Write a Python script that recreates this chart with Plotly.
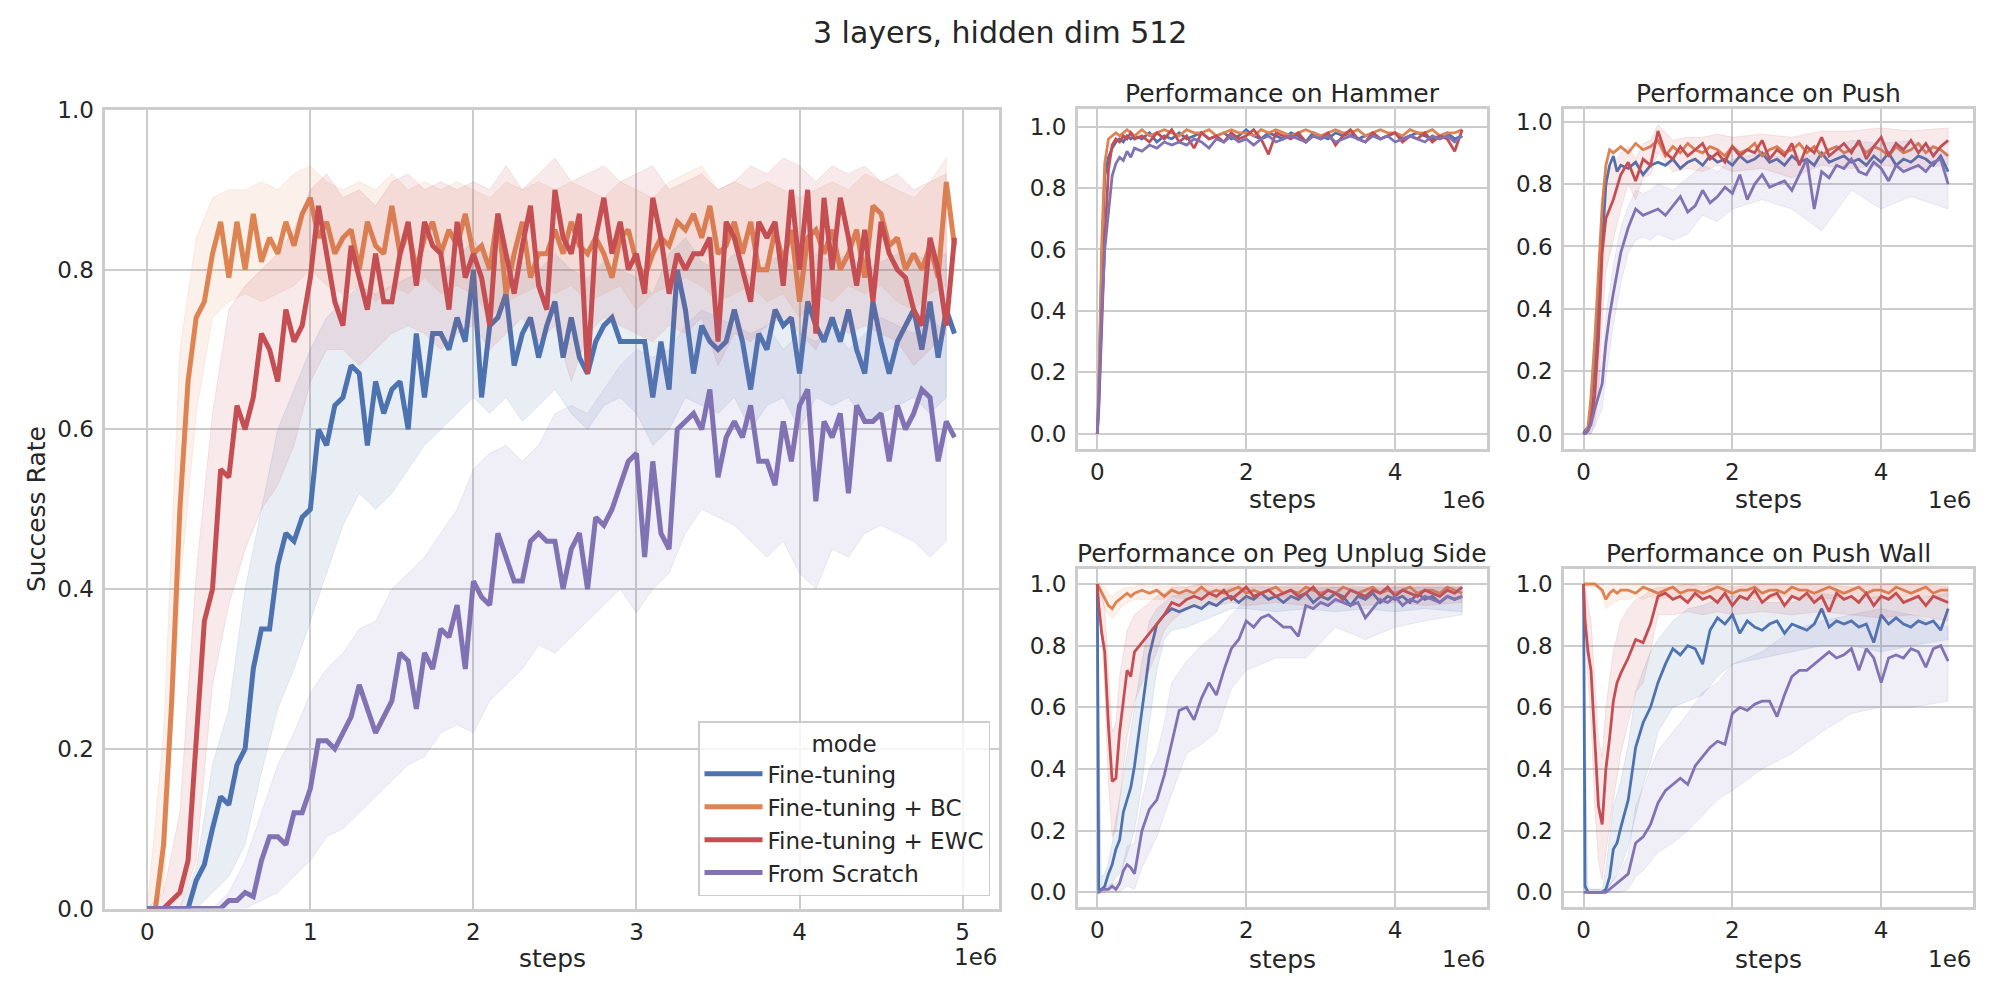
import plotly.graph_objects as go

# ---- sample grids (environment steps) ----
main_steps = list(range(0, 5_000_000, 50_000))          # 100 points
main_band_steps = list(range(0, 5_000_000, 100_000))    # 50 points
task_steps = [0, 20_000, 60_000, 100_000, 150_000, 200_000, 250_000, 300_000,
              350_000, 400_000, 450_000, 500_000] + list(range(600_000, 5_000_000, 100_000))
task_band_steps = [0, 50_000, 100_000, 150_000, 200_000, 250_000, 300_000, 400_000,
                   500_000, 600_000, 700_000, 800_000, 900_000,
                   1_000_000, 1_200_000, 1_400_000, 1_600_000, 1_800_000, 2_000_000,
                   2_400_000, 2_800_000, 3_200_000, 3_600_000, 4_000_000, 4_400_000, 4_900_000]

modes = ['Fine-tuning', 'Fine-tuning + BC', 'Fine-tuning + EWC', 'From Scratch']
colors = ['#4C72B0', '#DD8452', '#C44E52', '#8172B3']

# ---- main panel: mean success rate over all tasks ----
main_ft = [0, 0, 0, 0, 0, 0, 0.035, 0.055, 0.10, 0.14,
           0.13, 0.18, 0.20, 0.30, 0.35, 0.35, 0.43, 0.47, 0.46, 0.49,
           0.50, 0.60, 0.58, 0.63, 0.64, 0.68, 0.67, 0.58, 0.66, 0.62,
           0.65, 0.66, 0.60, 0.72, 0.64, 0.72, 0.72, 0.70, 0.74, 0.71,
           0.80, 0.64, 0.73, 0.74, 0.77, 0.68, 0.72, 0.74, 0.69, 0.73,
           0.76, 0.69, 0.74, 0.69, 0.67, 0.71, 0.73, 0.74, 0.71, 0.71,
           0.71, 0.71, 0.64, 0.71, 0.65, 0.80, 0.75, 0.67, 0.73, 0.71,
           0.70, 0.71, 0.75, 0.71, 0.65, 0.72, 0.70, 0.75, 0.73, 0.74,
           0.67, 0.76, 0.73, 0.71, 0.74, 0.71, 0.75, 0.70, 0.67, 0.76,
           0.71, 0.67, 0.71, 0.73, 0.75, 0.70, 0.76, 0.69, 0.75, 0.72]
main_bc = [0.0, 0.0, 0.08, 0.26, 0.50, 0.66, 0.74, 0.76, 0.82, 0.86,
           0.79, 0.86, 0.80, 0.87, 0.81, 0.84, 0.82, 0.86, 0.83, 0.87,
           0.89, 0.84, 0.86, 0.82, 0.84, 0.85, 0.80, 0.86, 0.83, 0.82,
           0.88, 0.82, 0.85, 0.80, 0.84, 0.86, 0.82, 0.85, 0.83, 0.87,
           0.82, 0.83, 0.80, 0.87, 0.77, 0.82, 0.86, 0.79, 0.82, 0.82,
           0.85, 0.82, 0.86, 0.83, 0.82, 0.84, 0.82, 0.79, 0.84, 0.85,
           0.81, 0.79, 0.82, 0.84, 0.83, 0.86, 0.85, 0.87, 0.84, 0.88,
           0.82, 0.83, 0.86, 0.82, 0.86, 0.80, 0.80, 0.85, 0.81, 0.85,
           0.76, 0.84, 0.85, 0.82, 0.85, 0.80, 0.82, 0.85, 0.79, 0.88,
           0.87, 0.83, 0.84, 0.80, 0.82, 0.80, 0.83, 0.79, 0.91, 0.83]
main_ewc = [0.0, 0.0, 0.0, 0.01, 0.02, 0.06, 0.22, 0.36, 0.40, 0.55,
            0.54, 0.63, 0.60, 0.64, 0.72, 0.70, 0.66, 0.75, 0.71, 0.73,
            0.79, 0.88, 0.82, 0.76, 0.73, 0.83, 0.79, 0.75, 0.82, 0.76,
            0.76, 0.82, 0.86, 0.78, 0.86, 0.83, 0.82, 0.75, 0.86, 0.79,
            0.82, 0.79, 0.73, 0.87, 0.82, 0.77, 0.83, 0.88, 0.78, 0.75,
            0.90, 0.84, 0.82, 0.87, 0.67, 0.84, 0.89, 0.82, 0.86, 0.80,
            0.82, 0.77, 0.89, 0.84, 0.77, 0.82, 0.80, 0.82, 0.82, 0.84,
            0.71, 0.86, 0.84, 0.80, 0.76, 0.86, 0.84, 0.86, 0.78, 0.90,
            0.80, 0.90, 0.72, 0.89, 0.80, 0.89, 0.84, 0.78, 0.85, 0.76,
            0.86, 0.82, 0.80, 0.79, 0.75, 0.73, 0.84, 0.80, 0.73, 0.84]
main_fs = [0, 0, 0, 0, 0, 0, 0, 0, 0, 0,
           0.01, 0.01, 0.02, 0.015, 0.06, 0.09, 0.09, 0.08, 0.12, 0.12,
           0.15, 0.21, 0.21, 0.20, 0.22, 0.24, 0.28, 0.25, 0.22, 0.24,
           0.26, 0.32, 0.31, 0.25, 0.32, 0.30, 0.35, 0.34, 0.38, 0.30,
           0.41, 0.39, 0.38, 0.47, 0.44, 0.41, 0.41, 0.46, 0.47, 0.46,
           0.46, 0.40, 0.45, 0.47, 0.40, 0.49, 0.48, 0.50, 0.53, 0.56,
           0.57, 0.44, 0.56, 0.47, 0.45, 0.60, 0.61, 0.62, 0.60, 0.65,
           0.54, 0.59, 0.61, 0.59, 0.63, 0.56, 0.56, 0.53, 0.61, 0.56,
           0.63, 0.65, 0.51, 0.61, 0.59, 0.62, 0.52, 0.63, 0.61, 0.61,
           0.62, 0.56, 0.63, 0.60, 0.62, 0.65, 0.64, 0.56, 0.61, 0.59]

# confidence bands of the main panel (every 100k steps)
main_ft_lo = [0, 0, 0, 0, 0.02, 0.04, 0.08, 0.17, 0.25, 0.30,
              0.36, 0.42, 0.48, 0.52, 0.50, 0.52, 0.55, 0.58, 0.60, 0.62,
              0.64, 0.62, 0.64, 0.61, 0.63, 0.65, 0.62, 0.60, 0.63, 0.64,
              0.62, 0.58, 0.60, 0.64, 0.63, 0.62, 0.64, 0.60, 0.63, 0.64,
              0.60, 0.64, 0.63, 0.64, 0.61, 0.62, 0.63, 0.64, 0.62, 0.64]
main_ft_hi = [0, 0, 0, 0.05, 0.18, 0.25, 0.40, 0.50, 0.60, 0.65,
              0.70, 0.74, 0.76, 0.78, 0.77, 0.78, 0.79, 0.80, 0.80, 0.81,
              0.84, 0.80, 0.82, 0.81, 0.80, 0.82, 0.80, 0.79, 0.81, 0.80,
              0.79, 0.77, 0.82, 0.84, 0.81, 0.80, 0.82, 0.79, 0.81, 0.82,
              0.79, 0.82, 0.81, 0.82, 0.80, 0.81, 0.82, 0.82, 0.81, 0.82]
main_bc_lo = [0, 0.02, 0.40, 0.62, 0.74, 0.76, 0.77, 0.76, 0.77, 0.78,
              0.80, 0.78, 0.77, 0.78, 0.76, 0.78, 0.77, 0.79, 0.77, 0.78,
              0.77, 0.74, 0.76, 0.77, 0.78, 0.77, 0.78, 0.76, 0.77, 0.78,
              0.75, 0.77, 0.78, 0.79, 0.78, 0.76, 0.77, 0.78, 0.76, 0.77,
              0.74, 0.77, 0.76, 0.78, 0.77, 0.78, 0.76, 0.75, 0.77, 0.78]
main_bc_hi = [0, 0.22, 0.70, 0.84, 0.89, 0.90, 0.90, 0.91, 0.90, 0.92,
              0.93, 0.91, 0.90, 0.91, 0.90, 0.92, 0.90, 0.91, 0.90, 0.91,
              0.90, 0.89, 0.91, 0.90, 0.91, 0.90, 0.91, 0.90, 0.89, 0.91,
              0.90, 0.89, 0.91, 0.92, 0.93, 0.90, 0.91, 0.90, 0.91, 0.90,
              0.89, 0.90, 0.91, 0.90, 0.92, 0.91, 0.90, 0.89, 0.91, 0.94]
main_ewc_lo = [0, 0, 0, 0.06, 0.28, 0.38, 0.45, 0.50, 0.53, 0.58,
               0.66, 0.70, 0.70, 0.68, 0.70, 0.72, 0.73, 0.72, 0.70, 0.72,
               0.73, 0.70, 0.72, 0.74, 0.71, 0.73, 0.66, 0.72, 0.74, 0.73,
               0.72, 0.71, 0.73, 0.72, 0.74, 0.68, 0.72, 0.71, 0.73, 0.74,
               0.72, 0.70, 0.74, 0.72, 0.73, 0.72, 0.71, 0.68, 0.70, 0.72]
main_ewc_hi = [0, 0.02, 0.12, 0.42, 0.62, 0.75, 0.78, 0.80, 0.82, 0.85,
               0.90, 0.92, 0.89, 0.90, 0.88, 0.91, 0.92, 0.90, 0.91, 0.90,
               0.91, 0.90, 0.93, 0.90, 0.92, 0.94, 0.91, 0.92, 0.93, 0.91,
               0.92, 0.93, 0.90, 0.91, 0.92, 0.90, 0.91, 0.93, 0.92, 0.94,
               0.93, 0.91, 0.93, 0.92, 0.93, 0.91, 0.92, 0.90, 0.91, 0.92]
main_fs_lo = [0, 0, 0, 0, 0, 0, 0, 0.01, 0.02, 0.04,
              0.06, 0.09, 0.10, 0.12, 0.14, 0.16, 0.18, 0.19, 0.22, 0.23,
              0.22, 0.26, 0.28, 0.30, 0.33, 0.32, 0.34, 0.36, 0.38, 0.40,
              0.37, 0.40, 0.42, 0.47, 0.50, 0.49, 0.48, 0.46, 0.44, 0.46,
              0.42, 0.40, 0.45, 0.44, 0.47, 0.48, 0.47, 0.46, 0.44, 0.46]
main_fs_hi = [0, 0, 0, 0, 0, 0.02, 0.06, 0.12, 0.18, 0.22,
              0.27, 0.30, 0.32, 0.35, 0.36, 0.40, 0.42, 0.44, 0.47, 0.50,
              0.55, 0.57, 0.58, 0.56, 0.58, 0.62, 0.63, 0.62, 0.65, 0.68,
              0.70, 0.69, 0.70, 0.73, 0.75, 0.74, 0.73, 0.72, 0.73, 0.70,
              0.72, 0.71, 0.73, 0.70, 0.72, 0.74, 0.73, 0.72, 0.74, 0.72]

# ---- per-task panels ----
hammer_ft = [0, 0.12, 0.55, 0.84, 0.90, 0.93, 0.95, 0.96, 0.95, 0.97, 0.96, 0.97,
             0.96, 0.98, 0.95, 0.97, 0.96, 0.98, 0.96, 0.97, 0.98, 0.96,
             0.97, 0.98, 0.96, 0.97, 0.99, 0.97, 0.96, 0.98, 0.97, 0.96,
             0.98, 0.97, 0.95, 0.98, 0.97, 0.96, 0.98, 0.97, 0.98, 0.96,
             0.97, 0.98, 0.96, 0.97, 0.98, 0.96, 0.97, 0.98, 0.97, 0.96,
             0.97, 0.98, 0.96, 0.97]
hammer_bc = [0, 0.15, 0.62, 0.88, 0.96, 0.97, 0.98, 0.97, 0.98, 0.99, 0.98, 0.97,
             0.99, 0.97, 0.98, 0.99, 0.98, 0.97, 0.99, 0.98, 0.98, 0.99,
             0.97, 0.98, 0.99, 0.98, 0.98, 0.97, 0.99, 0.98, 0.99, 0.98,
             0.97, 0.98, 0.99, 0.98, 0.97, 0.98, 0.99, 0.98, 0.98, 0.99,
             0.97, 0.98, 0.99, 0.98, 0.98, 0.97, 0.99, 0.98, 0.98, 0.99,
             0.97, 0.98, 0.98, 0.99]
hammer_ewc = [0, 0.08, 0.35, 0.62, 0.86, 0.94, 0.96, 0.95, 0.97, 0.96, 0.98, 0.96,
              0.97, 0.95, 0.98, 0.96, 0.99, 0.95, 0.97, 0.93, 0.98, 0.96,
              0.97, 0.95, 0.98, 0.96, 0.97, 0.99, 0.96, 0.91, 0.98, 0.97,
              0.96, 0.98, 0.95, 0.97, 0.96, 0.98, 0.94, 0.97, 0.99, 0.96,
              0.95, 0.98, 0.96, 0.97, 0.98, 0.95, 0.97, 0.96, 0.98, 0.95,
              0.97, 0.96, 0.92, 0.99]
hammer_fs = [0, 0.10, 0.40, 0.60, 0.72, 0.84, 0.88, 0.90, 0.89, 0.92, 0.90, 0.93,
             0.92, 0.94, 0.93, 0.95, 0.94, 0.95, 0.94, 0.96, 0.95, 0.93,
             0.96, 0.95, 0.97, 0.95, 0.96, 0.94, 0.96, 0.97, 0.95, 0.96,
             0.97, 0.96, 0.95, 0.97, 0.96, 0.97, 0.95, 0.96, 0.97, 0.96,
             0.95, 0.97, 0.96, 0.97, 0.95, 0.96, 0.97, 0.96, 0.95, 0.97,
             0.96, 0.97, 0.95, 0.97]

push_ft = [0, 0.01, 0.02, 0.08, 0.22, 0.42, 0.62, 0.80, 0.86, 0.89, 0.84, 0.86,
           0.85, 0.87, 0.83, 0.86, 0.87, 0.86, 0.88, 0.85, 0.87, 0.88,
           0.86, 0.89, 0.87, 0.88, 0.86, 0.89, 0.87, 0.88, 0.90, 0.87,
           0.88, 0.86, 0.89, 0.87, 0.88, 0.86, 0.90, 0.87, 0.88, 0.89,
           0.87, 0.88, 0.86, 0.89, 0.87, 0.90, 0.86, 0.88, 0.87, 0.89,
           0.88, 0.86, 0.89, 0.84]
push_bc = [0, 0.0, 0.02, 0.12, 0.30, 0.50, 0.73, 0.86, 0.91, 0.90, 0.91, 0.92,
           0.90, 0.93, 0.91, 0.92, 0.94, 0.89, 0.92, 0.90, 0.93, 0.91,
           0.90, 0.92, 0.91, 0.89, 0.92, 0.90, 0.91, 0.93, 0.89, 0.91,
           0.92, 0.90, 0.91, 0.93, 0.90, 0.92, 0.89, 0.91, 0.92, 0.90,
           0.91, 0.93, 0.90, 0.92, 0.91, 0.89, 0.92, 0.90, 0.91, 0.93,
           0.90, 0.92, 0.91, 0.89]
push_ewc = [0, 0.0, 0.01, 0.04, 0.12, 0.30, 0.58, 0.69, 0.72, 0.75, 0.79, 0.83,
            0.87, 0.81, 0.88, 0.86, 0.97, 0.90, 0.88, 0.92, 0.89, 0.91,
            0.93, 0.88, 0.90, 0.87, 0.92, 0.89, 0.91, 0.90, 0.94, 0.88,
            0.91, 0.89, 0.93, 0.86, 0.92, 0.90, 0.95, 0.89, 0.91, 0.93,
            0.90, 0.94, 0.88, 0.92, 0.95, 0.89, 0.93, 0.91, 0.94, 0.90,
            0.93, 0.89, 0.92, 0.94]
push_fs = [0, 0.0, 0.01, 0.03, 0.08, 0.12, 0.16, 0.29, 0.38, 0.45, 0.52, 0.58,
           0.66, 0.72, 0.70, 0.71, 0.72, 0.70, 0.73, 0.76, 0.71, 0.73,
           0.78, 0.74, 0.76, 0.79, 0.77, 0.83, 0.75, 0.80, 0.83, 0.79,
           0.80, 0.81, 0.78, 0.83, 0.88, 0.72, 0.84, 0.82, 0.86, 0.85,
           0.88, 0.84, 0.83, 0.87, 0.85, 0.81, 0.86, 0.84, 0.85, 0.86,
           0.84, 0.87, 0.88, 0.80]

peg_ft = [1.0, 0.01, 0.01, 0.02, 0.06, 0.09, 0.14, 0.17, 0.26, 0.30, 0.34, 0.41,
          0.59, 0.77, 0.87, 0.90, 0.92, 0.91, 0.92, 0.93, 0.92, 0.94,
          0.93, 0.95, 0.96, 0.94, 0.96, 0.95, 0.97, 0.95, 0.96, 0.94,
          0.96, 0.95, 0.97, 0.94, 0.96, 0.95, 0.97, 0.96, 0.93, 0.96,
          0.95, 0.97, 0.94, 0.96, 0.95, 0.96, 0.94, 0.97, 0.95, 0.96,
          0.94, 0.96, 0.95, 0.96]
peg_bc = [1.0, 0.99, 0.97, 0.95, 0.93, 0.92, 0.94, 0.95, 0.96, 0.97, 0.96, 0.97,
          0.98, 0.97, 0.98, 0.96, 0.98, 0.97, 0.98, 0.97, 0.99, 0.97,
          0.98, 0.97, 0.98, 0.99, 0.97, 0.98, 0.97, 0.98, 0.99, 0.97,
          0.98, 0.97, 0.99, 0.98, 0.97, 0.98, 0.97, 0.99, 0.98, 0.97,
          0.98, 0.99, 0.97, 0.98, 0.97, 0.98, 0.99, 0.97, 0.98, 0.98,
          0.97, 0.99, 0.98, 0.97]
peg_ewc = [1.0, 0.93, 0.84, 0.78, 0.54, 0.36, 0.37, 0.52, 0.62, 0.72, 0.70, 0.78,
           0.81, 0.84, 0.87, 0.90, 0.94, 0.93, 0.95, 0.96, 0.95, 0.97,
           0.96, 0.98, 0.95, 0.97, 0.99, 0.96, 0.97, 0.98, 0.96, 0.97,
           0.98, 0.96, 0.97, 0.99, 0.96, 0.98, 0.97, 0.95, 0.98, 0.97,
           0.96, 0.98, 0.97, 0.99, 0.96, 0.98, 0.97, 0.96, 0.98, 0.97,
           0.96, 0.98, 0.97, 0.99]
peg_fs = [0.0, 0.0, 0.01, 0.01, 0.01, 0.02, 0.01, 0.03, 0.07, 0.09, 0.08, 0.06,
          0.20, 0.27, 0.30, 0.38, 0.49, 0.59, 0.60, 0.56, 0.63, 0.68,
          0.64, 0.72, 0.79, 0.82, 0.88, 0.86, 0.89, 0.90, 0.88, 0.86,
          0.86, 0.83, 0.93, 0.92, 0.94, 0.93, 0.95, 0.94, 0.93, 0.94,
          0.89, 0.92, 0.95, 0.94, 0.96, 0.93, 0.95, 0.94, 0.96, 0.95,
          0.94, 0.96, 0.95, 0.96]

wall_ft = [1.0, 0.02, 0.0, 0.0, 0.0, 0.0, 0.0, 0.01, 0.05, 0.14, 0.16, 0.21,
           0.30, 0.47, 0.55, 0.60, 0.68, 0.74, 0.79, 0.77, 0.80, 0.79,
           0.74, 0.85, 0.89, 0.87, 0.90, 0.84, 0.88, 0.86, 0.85, 0.87,
           0.88, 0.84, 0.87, 0.86, 0.85, 0.87, 0.92, 0.86, 0.88, 0.87,
           0.88, 0.86, 0.87, 0.81, 0.90, 0.87, 0.89, 0.87, 0.86, 0.88,
           0.87, 0.88, 0.85, 0.92]
wall_bc = [1.0, 1.0, 1.0, 1.0, 1.0, 0.99, 0.98, 0.95, 0.97, 0.98, 0.97, 0.98,
           0.98, 0.97, 0.99, 0.98, 0.97, 0.98, 0.99, 0.97, 0.98, 0.98,
           0.97, 0.98, 0.99, 0.98, 0.97, 0.98, 0.98, 0.99, 0.97, 0.98,
           0.98, 0.97, 0.99, 0.98, 0.98, 0.97, 0.98, 0.99, 0.98, 0.97,
           0.98, 0.99, 0.97, 0.98, 0.98, 0.97, 0.99, 0.98, 0.97, 0.98,
           0.99, 0.97, 0.98, 0.98]
wall_ewc = [1.0, 0.88, 0.78, 0.72, 0.50, 0.28, 0.22, 0.40, 0.50, 0.62, 0.68, 0.71,
            0.76, 0.82, 0.81, 0.87, 0.96, 0.97, 0.95, 0.96, 0.94, 0.97,
            0.95, 0.96, 0.94, 0.97, 0.93, 0.96, 0.95, 0.98, 0.94, 0.96,
            0.97, 0.93, 0.96, 0.95, 0.97, 0.94, 0.96, 0.91, 0.97, 0.95,
            0.96, 0.94, 0.97, 0.93, 0.96, 0.95, 0.97, 0.94, 0.95, 0.96,
            0.93, 0.96, 0.95, 0.94]
wall_fs = [0.0, 0.0, 0.0, 0.0, 0.0, 0.0, 0.0, 0.0, 0.01, 0.02, 0.03, 0.04,
           0.06, 0.16, 0.18, 0.22, 0.29, 0.33, 0.35, 0.37, 0.35, 0.41,
           0.44, 0.47, 0.49, 0.48, 0.58, 0.60, 0.59, 0.61, 0.62, 0.62,
           0.57, 0.64, 0.70, 0.72, 0.72, 0.74, 0.76, 0.78, 0.76, 0.77,
           0.79, 0.72, 0.79, 0.76, 0.68, 0.76, 0.77, 0.76, 0.79, 0.78,
           0.73, 0.79, 0.80, 0.75]

# bands of the per-task panels (only the visible ones)
push_ewc_lo = [0, 0, 0, 0.03, 0.12, 0.35, 0.52, 0.62, 0.72, 0.80, 0.75, 0.82, 0.83,
               0.90, 0.84, 0.85, 0.84, 0.86, 0.84, 0.85, 0.82, 0.86, 0.85, 0.86, 0.85, 0.86]
push_ewc_hi = [0, 0.01, 0.08, 0.25, 0.50, 0.75, 0.83, 0.86, 0.90, 0.92, 0.88, 0.93, 0.94,
               0.99, 0.94, 0.95, 0.95, 0.96, 0.95, 0.96, 0.95, 0.97, 0.97, 0.98, 0.97, 0.98]
push_fs_lo = [0, 0, 0, 0.02, 0.05, 0.08, 0.18, 0.35, 0.48, 0.58, 0.62, 0.63, 0.62,
              0.64, 0.62, 0.64, 0.70, 0.68, 0.72, 0.75, 0.72, 0.65, 0.78, 0.72, 0.76, 0.72]
push_fs_hi = [0, 0.01, 0.04, 0.12, 0.18, 0.24, 0.38, 0.54, 0.66, 0.73, 0.78, 0.77, 0.78,
              0.80, 0.78, 0.82, 0.86, 0.84, 0.88, 0.90, 0.88, 0.90, 0.94, 0.93, 0.94, 0.90]

peg_bc_lo = [1.0, 0.97, 0.92, 0.90, 0.89, 0.90, 0.92, 0.94, 0.95, 0.95, 0.95, 0.95, 0.95,
             0.96, 0.95, 0.96, 0.95, 0.96, 0.95, 0.96, 0.95, 0.96, 0.95, 0.96, 0.95, 0.95]
peg_bc_hi = [1.0, 1.0, 0.99, 0.97, 0.96, 0.97, 0.98, 0.99, 0.99, 1.0, 0.99, 1.0, 0.99,
             1.0, 0.99, 1.0, 0.99, 1.0, 1.0, 0.99, 1.0, 1.0, 0.99, 1.0, 1.0, 0.99]
peg_ft_lo = [1.0, 0, 0, 0.01, 0.03, 0.05, 0.06, 0.12, 0.20, 0.35, 0.55, 0.72, 0.82,
             0.85, 0.86, 0.88, 0.90, 0.92, 0.92, 0.91, 0.92, 0.91, 0.92, 0.91, 0.92, 0.91]
peg_ft_hi = [1.0, 0.05, 0.06, 0.10, 0.16, 0.24, 0.30, 0.45, 0.60, 0.75, 0.88, 0.92, 0.94,
             0.96, 0.97, 0.98, 0.98, 0.99, 0.99, 0.99, 0.99, 0.99, 0.99, 0.99, 0.99, 0.99]
peg_ewc_lo = [1.0, 0.85, 0.66, 0.35, 0.18, 0.20, 0.30, 0.50, 0.62, 0.68, 0.72, 0.78, 0.85,
              0.88, 0.92, 0.93, 0.93, 0.94, 0.93, 0.94, 0.93, 0.94, 0.93, 0.94, 0.93, 0.94]
peg_ewc_hi = [1.0, 0.98, 0.92, 0.72, 0.52, 0.55, 0.70, 0.85, 0.90, 0.92, 0.94, 0.96, 0.97,
              0.99, 0.99, 1.0, 1.0, 1.0, 1.0, 1.0, 1.0, 1.0, 1.0, 1.0, 1.0, 1.0]
peg_fs_lo = [0, 0, 0, 0, 0, 0, 0, 0.02, 0.01, 0.08, 0.13, 0.18, 0.25,
             0.32, 0.45, 0.48, 0.52, 0.66, 0.72, 0.76, 0.76, 0.86, 0.82, 0.86, 0.88, 0.90]
peg_fs_hi = [0, 0.01, 0.02, 0.02, 0.03, 0.03, 0.04, 0.15, 0.16, 0.30, 0.40, 0.45, 0.55,
             0.68, 0.75, 0.80, 0.84, 0.90, 0.95, 0.96, 0.98, 0.99, 0.98, 0.99, 0.99, 0.99]

wall_bc_lo = [1.0, 0.99, 0.99, 0.99, 0.99, 0.96, 0.92, 0.94, 0.95, 0.95, 0.96, 0.95, 0.96,
              0.95, 0.96, 0.95, 0.96, 0.95, 0.96, 0.95, 0.96, 0.95, 0.96, 0.95, 0.96, 0.96]
wall_bc_hi = [1.0, 1.0, 1.0, 1.0, 1.0, 1.0, 0.99, 1.0, 1.0, 1.0, 1.0, 1.0, 1.0,
              1.0, 1.0, 1.0, 1.0, 1.0, 1.0, 1.0, 1.0, 1.0, 1.0, 1.0, 1.0, 1.0]
wall_ft_lo = [1.0, 0, 0, 0, 0, 0, 0, 0.04, 0.08, 0.15, 0.25, 0.35, 0.42,
              0.52, 0.60, 0.62, 0.64, 0.70, 0.74, 0.76, 0.78, 0.80, 0.80, 0.78, 0.80, 0.82]
wall_ft_hi = [1.0, 0.02, 0.01, 0.01, 0.01, 0.01, 0.08, 0.28, 0.36, 0.48, 0.65, 0.72, 0.78,
              0.82, 0.88, 0.92, 0.93, 0.95, 0.96, 0.94, 0.94, 0.97, 0.95, 0.96, 0.95, 0.97]
wall_ewc_lo = [1.0, 0.72, 0.55, 0.28, 0.10, 0.04, 0.12, 0.30, 0.45, 0.55, 0.65, 0.68, 0.78,
               0.90, 0.90, 0.91, 0.90, 0.91, 0.90, 0.91, 0.90, 0.91, 0.90, 0.89, 0.90, 0.88]
wall_ewc_hi = [1.0, 0.95, 0.88, 0.70, 0.50, 0.44, 0.60, 0.78, 0.88, 0.92, 0.95, 0.96, 0.98,
               0.99, 0.99, 1.0, 0.99, 1.0, 0.99, 1.0, 1.0, 1.0, 0.99, 1.0, 1.0, 0.99]
wall_fs_lo = [0, 0, 0, 0, 0, 0, 0, 0, 0, 0.01, 0.05, 0.07, 0.10,
              0.13, 0.16, 0.20, 0.25, 0.30, 0.33, 0.40, 0.45, 0.52, 0.58, 0.60, 0.60, 0.62]
wall_fs_hi = [0, 0.01, 0.01, 0.01, 0.01, 0.01, 0.01, 0.04, 0.07, 0.12, 0.28, 0.34, 0.40,
              0.46, 0.52, 0.58, 0.65, 0.68, 0.74, 0.78, 0.85, 0.88, 0.90, 0.92, 0.90, 0.86]

TEXT = '#262626'
GRID = '#cccccc'
FONT = 'DejaVu Sans'

# the page body adds an 8px margin, so the figure is laid out in page pixels minus 8
OFF = 8
W, H = 2000 - 2 * OFF, 1000 - 2 * OFF


def px(x):
    return (x - OFF) / W


def py(y):
    return 1 - (y - OFF) / H


def rgba(hex_color, a):
    h = hex_color.lstrip('#')
    return 'rgba(%d,%d,%d,%s)' % (int(h[0:2], 16), int(h[2:4], 16), int(h[4:6], 16), a)


fig = go.Figure()


def add_band(xs, lo, hi, color, ax):
    fig.add_trace(go.Scatter(x=xs + xs[::-1], y=hi + lo[::-1], mode='lines',
                             fill='toself', fillcolor=rgba(color, 0.12),
                             line=dict(width=1, color=rgba(color, 0.12)),
                             hoverinfo='skip', showlegend=False,
                             xaxis='x' + ax, yaxis='y' + ax))


def add_line(xs, ys, color, width, ax, name=None):
    fig.add_trace(go.Scatter(x=xs, y=ys, mode='lines', name=name,
                             line=dict(color=color, width=width),
                             showlegend=name is not None,
                             xaxis='x' + ax, yaxis='y' + ax))


# main panel
main_lines = [main_ft, main_bc, main_ewc, main_fs]
main_bands = [(main_ft_lo, main_ft_hi), (main_bc_lo, main_bc_hi),
              (main_ewc_lo, main_ewc_hi), (main_fs_lo, main_fs_hi)]
for mode, col, ys, (lo, hi) in zip(modes, colors, main_lines, main_bands):
    add_band(main_band_steps, lo, hi, col, '')
    add_line(main_steps, ys, col, 5, '', name=mode)

# task panels
tasks = [
    ('2', [hammer_ft, hammer_bc, hammer_ewc, hammer_fs], [None, None, None, None]),
    ('3', [push_ft, push_bc, push_ewc, push_fs],
     [None, None, (push_ewc_lo, push_ewc_hi), (push_fs_lo, push_fs_hi)]),
    ('4', [peg_ft, peg_bc, peg_ewc, peg_fs],
     [(peg_ft_lo, peg_ft_hi), (peg_bc_lo, peg_bc_hi), (peg_ewc_lo, peg_ewc_hi), (peg_fs_lo, peg_fs_hi)]),
    ('5', [wall_ft, wall_bc, wall_ewc, wall_fs],
     [(wall_ft_lo, wall_ft_hi), (wall_bc_lo, wall_bc_hi), (wall_ewc_lo, wall_ewc_hi), (wall_fs_lo, wall_fs_hi)]),
]
for ax, lines, bands in tasks:
    for col, ys, band in zip(colors, lines, bands):
        if band is not None:
            add_band(task_band_steps, band[0], band[1], col, ax)
        add_line(task_steps, ys, col, 2.8, ax)


def xaxis(domain, rng, tickvals, anchor):
    return dict(domain=domain, range=rng, anchor=anchor, automargin=False,
                tickvals=tickvals, ticktext=['%g' % (v / 1e6) for v in tickvals],
                showgrid=True, gridcolor=GRID, gridwidth=1.6, zeroline=False,
                showline=True, mirror=True, linecolor=GRID, linewidth=2.5,
                ticks='', ticklabelstandoff=1,
                tickfont=dict(family=FONT, size=23, color=TEXT))


def yaxis(domain, rng, anchor):
    vals = [0, 0.2, 0.4, 0.6, 0.8, 1.0]
    return dict(domain=domain, range=rng, anchor=anchor, automargin=False,
                tickvals=vals, ticktext=['%.1f' % v for v in vals],
                showgrid=True, gridcolor=GRID, gridwidth=1.6, zeroline=False,
                showline=True, mirror=True, linecolor=GRID, linewidth=2.5,
                ticks='', ticklabelstandoff=4,
                tickfont=dict(family=FONT, size=23, color=TEXT))


# panel frames in page pixels
main_x = [px(105.2), px(999.3)]
left_x = [px(1077.7), px(1486.7)]
right_x = [px(1564), px(1972.7)]
main_y = [py(908.5), py(110)]
top_y = [py(448.7), py(109.3)]
bot_y = [py(906.7), py(569.3)]
small_ticks = [0, 2_000_000, 4_000_000]
small_xr = [-263_000, 5_230_000]

fig.update_layout(
    width=W, height=H,
    margin=dict(l=0, r=0, t=0, b=0, autoexpand=False),
    paper_bgcolor='white', plot_bgcolor='white',
    font=dict(family=FONT, color=TEXT),
    xaxis=xaxis(main_x, [-258_000, 5_225_000], [0, 1e6, 2e6, 3e6, 4e6, 5e6], 'y'),
    yaxis=yaxis(main_y, [0, 1], 'x'),
    xaxis2=xaxis(left_x, small_xr, small_ticks, 'y2'),
    yaxis2=yaxis(top_y, [-0.049, 1.0565], 'x2'),
    xaxis3=xaxis(right_x, small_xr, small_ticks, 'y3'),
    yaxis3=yaxis(top_y, [-0.048, 1.0395], 'x3'),
    xaxis4=xaxis(left_x, small_xr, small_ticks, 'y4'),
    yaxis4=yaxis(bot_y, [-0.0465, 1.0476], 'x4'),
    xaxis5=xaxis(right_x, small_xr, small_ticks, 'y5'),
    yaxis5=yaxis(bot_y, [-0.0465, 1.0476], 'x5'),
    legend=dict(x=px(990), y=py(896), xanchor='right', yanchor='bottom',
                bgcolor='rgba(255,255,255,0.8)', bordercolor=GRID, borderwidth=1.5,
                font=dict(family=FONT, size=23, color=TEXT),
                title=dict(text='mode', side='top center', font=dict(family=FONT, size=23, color=TEXT)),
                itemwidth=58, tracegroupgap=0),
)


def label(text, x, y, size, xanchor='center', angle=0):
    fig.add_annotation(text=text, x=px(x), y=py(y), xref='paper', yref='paper',
                       xanchor=xanchor, yanchor='middle', showarrow=False, textangle=angle,
                       font=dict(family=FONT, size=size, color=TEXT))


cx_main = (105.2 + 999.3) / 2
cx_left = (1077.7 + 1486.7) / 2
cx_right = (1564 + 1972.7) / 2
label('3 layers, hidden dim 512', 1000, 32, 30)
label('Performance on Hammer', cx_left, 93, 25)
label('Performance on Push', cx_right, 93, 25)
label('Performance on Peg Unplug Side', cx_left, 553, 25)
label('Performance on Push Wall', cx_right, 553, 25)
label('Success Rate', 36, 509, 25, angle=-90)
label('steps', cx_main, 958, 25)
label('steps', cx_left, 499, 25)
label('steps', cx_right, 499, 25)
label('steps', cx_left, 959, 25)
label('steps', cx_right, 959, 25)
label('1e6', 999.3, 957, 23, xanchor='right')
label('1e6', 1486.7, 499.5, 23, xanchor='right')
label('1e6', 1972.7, 499.5, 23, xanchor='right')
label('1e6', 1486.7, 959, 23, xanchor='right')
label('1e6', 1972.7, 959, 23, xanchor='right')

fig.write_html('out.html')
